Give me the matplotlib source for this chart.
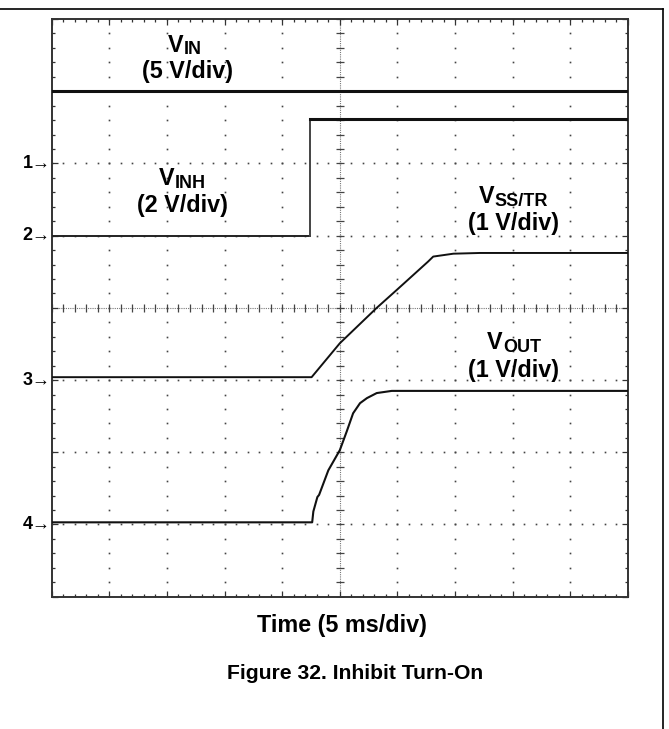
import numpy as np
import matplotlib
matplotlib.use("Agg")
import matplotlib.pyplot as plt
from matplotlib.lines import Line2D

plt.rcParams['font.family'] = ['Liberation Sans', 'DejaVu Sans']

W, H = 669, 729  # canvas size in pixels

# Scope screen: 10 x 8 divisions, 5 ms/div
ms_per_div = 5
n_xdiv, n_ydiv = 10, 8

# Channel settings (ground markers in divisions from the bottom edge)
channel_ids = ["1", "2", "3", "4"]
volts_per_div = [5, 2, 1, 1]
ground_div = [6, 5, 3, 1]

# Captured waveforms: time in ms, level in volts
vin_t = [0, 50]
vin_v = [5.0, 5.0]

vinh_t = [0, 22.4, 22.4, 50]
vinh_v = [0.0, 0.0, 3.22, 3.22]

ss_t = [0, 22.55, 25.0, 28.2, 29.95, 32.65, 33.1, 34.85, 37.15, 50]
ss_v = [0.04, 0.04, 0.51, 1.0, 1.25, 1.64, 1.71, 1.75, 1.76, 1.76]

vout_t = [0, 22.6, 22.7, 23.05, 23.2, 24.0, 25.0, 25.6, 26.15, 26.75,
          27.35, 28.2, 29.5, 50]
vout_v = [0.03, 0.03, 0.18, 0.38, 0.41, 0.75, 1.03, 1.29, 1.54, 1.68,
          1.75, 1.82, 1.85, 1.85]

# Screen area in pixels
px_left, px_right, px_top, px_bottom = 51.7, 628.0, 19.0, 596.7

fig = plt.figure(figsize=(W / 100, H / 100), dpi=100)
ax = fig.add_axes([px_left / W, 1 - px_bottom / H,
                   (px_right - px_left) / W, (px_bottom - px_top) / H])
t_max = n_xdiv * ms_per_div
ax.set_xlim(0, t_max)
ax.set_ylim(0, n_ydiv)

for s in ax.spines.values():
    s.set_linewidth(1.4)
    s.set_color('#333333')

ax.set_xticks(np.arange(0, t_max + 0.01, ms_per_div))
ax.set_xticks(np.arange(0, t_max + 0.01, ms_per_div / 5), minor=True)
ax.set_yticks(np.arange(0, n_ydiv + 0.01, 1))
ax.set_yticks(np.arange(0, n_ydiv + 0.01, 0.2), minor=True)
ax.tick_params(which='both', direction='in', top=True, right=True,
               labelbottom=False, labelleft=False, color='#333333', width=0.9)
ax.tick_params(which='major', length=4)
ax.tick_params(which='minor', length=2.5)

# Dotted graticule
grid_kw = dict(ls='none', marker='s', ms=1.2, mew=0, color='#444444', zorder=1)
ys_fine = np.arange(0, n_ydiv + 0.001, 0.2)
xs_fine = np.arange(0, t_max + 0.001, ms_per_div / 5)
for k in range(1, n_xdiv):
    if k == n_xdiv // 2:
        continue
    ax.plot(np.full_like(ys_fine, k * ms_per_div), ys_fine, **grid_kw)
for k in range(1, n_ydiv):
    if k == n_ydiv // 2:
        continue
    ax.plot(xs_fine, np.full_like(xs_fine, k), **grid_kw)

# Center axes with minor tick marks
xc, yc = t_max / 2, n_ydiv / 2
ax.axvline(xc, color='#777777', lw=0.8, ls=(0, (1, 1)), zorder=1)
ax.axhline(yc, color='#777777', lw=0.8, ls=(0, (1, 1)), zorder=1)
ax.plot(np.full_like(ys_fine, xc), ys_fine, ls='none', marker='_', ms=6,
        mew=0.9, color='#444444', zorder=1)
ax.plot(xs_fine, np.full_like(xs_fine, yc), ls='none', marker='|', ms=6,
        mew=0.9, color='#444444', zorder=1)


def screen(ch, v):
    return ground_div[ch] + np.asarray(v) / volts_per_div[ch]


ax.plot(vin_t, screen(0, vin_v), color='#111111', lw=2.2, zorder=3)
ax.plot(vinh_t[:2], screen(1, vinh_v[:2]), color='#222222', lw=1.4, zorder=3)
ax.plot(vinh_t[1:3], screen(1, vinh_v[1:3]), color='#444444', lw=1.4, zorder=3)
ax.plot(vinh_t[2:], screen(1, vinh_v[2:]), color='#111111', lw=2.2, zorder=3)
ax.plot(ss_t, screen(2, ss_v), color='#111111', lw=1.4, zorder=3)
ax.plot(vout_t, screen(3, vout_v), color='#111111', lw=1.5, zorder=3)

# Channel ground markers
for cid, g in zip(channel_ids, ground_div):
    y_px = px_bottom - g * (px_bottom - px_top) / n_ydiv
    fig.text((px_left - 1) / W, 1 - y_px / H, cid + "\u2192", ha='right',
             va='center', fontsize=13, weight='bold')

renderer = fig.canvas.get_renderer()


def fx(x):
    return x / W


def fy(y):
    return 1 - y / H


def sub_label(cx, base, main, sub, size=16.8, sub_size=13, drop=2.5):
    t1 = fig.text(0, 0, main, fontsize=size, weight='bold', va='baseline')
    t2 = fig.text(0, 0, sub, fontsize=sub_size, weight='bold', va='baseline')
    w1 = t1.get_window_extent(renderer).width
    w2 = t2.get_window_extent(renderer).width
    left = cx - (w1 + w2) / 2
    t1.set_position((fx(left), fy(base)))
    t2.set_position((fx(left + w1), fy(base + drop)))


def line_label(cx, base, s, size=16.8):
    fig.text(fx(cx), fy(base), s, fontsize=size, weight='bold',
             ha='center', va='baseline')


sub_label(185, 52, "V", "IN")
line_label(187, 78, "(5 V/div)")
sub_label(182, 185, "V", "INH")
line_label(182, 212, "(2 V/div)")
sub_label(513, 203, "V", "SS/TR")
line_label(513, 230, "(1 V/div)")
sub_label(514, 349, "V", "OUT")
line_label(514, 377, "(1 V/div)")

line_label(342, 632, "Time (5 ms/div)")
line_label(355, 679, "Figure 32. Inhibit Turn-On", size=15.2)

# Page frame
fig.add_artist(Line2D([0, fx(663)], [fy(9.3), fy(9.3)], color='black', lw=1.2))
fig.add_artist(Line2D([fx(663), fx(663)], [fy(9.3), 0], color='black', lw=1.2))

fig.savefig("out.png", dpi=100)
